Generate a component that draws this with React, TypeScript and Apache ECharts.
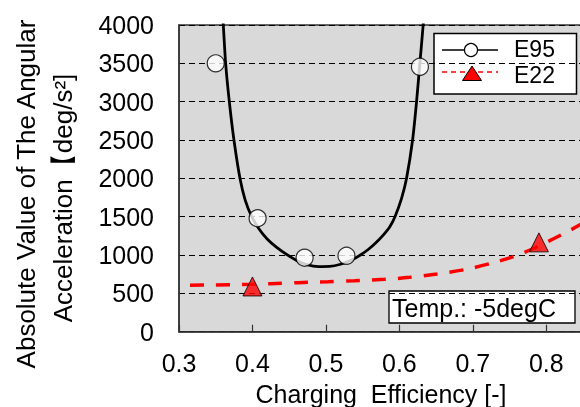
import React, { useEffect, useRef } from "react";
import * as echarts from "echarts";

// E95 measured points
const e95X = [0.35, 0.407, 0.471, 0.528, 0.628];
const e95Y = [3500, 1480, 965, 990, 3455];
// E22 measured points
const e22X = [0.4, 0.79];
const e22Y = [590, 1165];
// E95 fitted curve
const e95FitX = [0.357, 0.3603, 0.3635, 0.3685, 0.3748, 0.383, 0.39, 0.399, 0.409, 0.42, 0.433, 0.447, 0.46, 0.474, 0.49, 0.505, 0.52, 0.535, 0.547, 0.558, 0.568, 0.578, 0.587, 0.594, 0.603, 0.6098, 0.618, 0.6234, 0.6279, 0.6324, 0.635];
const e95FitY = [4500, 4000, 3500, 3000, 2500, 2000, 1720, 1500, 1340, 1210, 1100, 1005, 930, 875, 850, 852, 880, 935, 1000, 1075, 1160, 1260, 1370, 1500, 1740, 2000, 2500, 3000, 3500, 4000, 4400];
// E22 fitted curve
const e22FitX = [0.315, 0.346, 0.4, 0.424, 0.462, 0.503, 0.539, 0.58, 0.614, 0.651, 0.691, 0.728, 0.764, 0.802, 0.833, 0.85];
const e22FitY = [606, 609, 618, 626, 640, 652, 665, 683, 709, 752, 813, 900, 1009, 1174, 1326, 1415];

const xName = "Charging  Efficiency [-]";
const yNameLine1 = "Absolute Value of The Angular";
const yNameLine2 = "Acceleration【deg/s²]";
const seriesNames = ["E95", "E22"];
const noteText = "Temp.: -5degC";

const FONT = "'Liberation Sans', Arial, sans-serif";

export default function App() {
  const ref = useRef<HTMLDivElement>(null);
  useEffect(() => {
    if (!ref.current) return;
    const chart = echarts.init(ref.current, undefined, { renderer: "svg" });
    const zip = (xs: number[], ys: number[]) => xs.map((x, i) => [x, ys[i]]);
    chart.setOption({
      animation: false,
      grid: {
        left: 179,
        top: 25,
        width: 404,
        height: 306.7,
        containLabel: false,
        outerBoundsMode: "none",
        show: true,
        backgroundColor: "#d9d9d9",
        borderColor: "#333",
        borderWidth: 1.5,
      },
      xAxis: {
        type: "value",
        min: 0.3,
        max: 0.85,
        interval: 0.1,
        name: xName,
        nameLocation: "middle",
        nameGap: 46,
        nameTextStyle: { fontFamily: FONT, fontSize: 25, color: "#000", lineHeight: 26 },
        axisLine: { show: true, lineStyle: { color: "#333", width: 1.5 } },
        axisTick: { show: true, inside: true, length: 7, lineStyle: { color: "#333", width: 1.2 } },
        axisLabel: {
          fontFamily: FONT,
          fontSize: 25,
          color: "#000",
          margin: 19,
          showMaxLabel: false,
          formatter: (v: number) => v.toFixed(1),
        },
        splitLine: { show: false },
      },
      yAxis: {
        type: "value",
        min: 0,
        max: 4000,
        interval: 500,
        axisLine: { show: true, lineStyle: { color: "#333", width: 1.5 } },
        axisTick: { show: false },
        axisLabel: { fontFamily: FONT, fontSize: 25, color: "#000", margin: 25, formatter: (v: number) => String(v) },
        splitLine: { show: true, lineStyle: { color: "#000", width: 1.2, type: [6, 4] } },
      },
      series: [
        {
          name: seriesNames[0] + " fit",
          type: "line",
          data: zip(e95FitX, e95FitY),
          showSymbol: false,
          symbol: "none",
          smooth: 0.25,
          lineStyle: { color: "#000", width: 2.8 },
          z: 3,
        },
        {
          name: seriesNames[1] + " fit",
          type: "line",
          data: zip(e22FitX, e22FitY),
          showSymbol: false,
          symbol: "none",
          smooth: 0.3,
          lineStyle: { color: "#ff0000", width: 3.5, type: [14, 12] },
          z: 3,
        },
        {
          name: seriesNames[0],
          type: "scatter",
          data: zip(e95X, e95Y),
          symbol: "circle",
          symbolSize: 17,
          itemStyle: { color: "#fff", borderColor: "#000", borderWidth: 1.2 },
          z: 4,
        },
        {
          name: seriesNames[1],
          type: "scatter",
          data: zip(e22X, e22Y),
          symbol: "triangle",
          symbolSize: [19, 19],
          itemStyle: { color: "#ff0000", borderColor: "#000", borderWidth: 1 },
          z: 4,
        },
      ],
      graphic: [
        {
          type: "text",
          x: 25.5,
          y: 194,
          rotation: Math.PI / 2,
          style: { text: yNameLine1, font: "26px " + FONT, fill: "#000", align: "center", verticalAlign: "middle" },
        },
        {
          type: "text",
          x: 63,
          y: 198,
          rotation: Math.PI / 2,
          style: { text: yNameLine2, font: "26px " + FONT, fill: "#000", align: "center", verticalAlign: "middle" },
        },
        {
          type: "group",
          z: 100,
          children: [
            { type: "rect", shape: { x: 434, y: 33.5, width: 142.5, height: 60.5 }, style: { fill: "#fff", stroke: "#000", lineWidth: 1.5 } },
            { type: "line", shape: { x1: 442, y1: 50, x2: 498, y2: 50 }, style: { stroke: "#000", lineWidth: 1.5 } },
            { type: "circle", shape: { cx: 471, cy: 50, r: 6.5 }, style: { fill: "#fff", stroke: "#000", lineWidth: 1.2 } },
            { type: "text", x: 514, y: 49, style: { text: seriesNames[0], font: "23px " + FONT, fill: "#000", verticalAlign: "middle", align: "left" } },
            { type: "line", shape: { x1: 442, y1: 72, x2: 498, y2: 72 }, style: { stroke: "#ff0000", lineWidth: 1.5, lineDash: [5, 4] } },
            { type: "polygon", shape: { points: [[472, 66], [481.5, 80.5], [462.5, 80.5]] }, style: { fill: "#ff0000", stroke: "#000", lineWidth: 1 } },
            { type: "text", x: 514, y: 74.5, style: { text: seriesNames[1], font: "23px " + FONT, fill: "#000", verticalAlign: "middle", align: "left" } },
            { type: "rect", shape: { x: 389, y: 291, width: 186, height: 32 }, style: { fill: "#fff", stroke: "#000", lineWidth: 1.3 } },
            { type: "text", x: 392, y: 307.5, style: { text: noteText, font: "25px " + FONT, fill: "#000", verticalAlign: "middle", align: "left" } },
          ],
        },
      ],
    });
    return () => chart.dispose();
  }, []);
  return <div ref={ref} style={{ position: "fixed", left: 0, top: 0, width: 580, height: 407 }} />;
}
